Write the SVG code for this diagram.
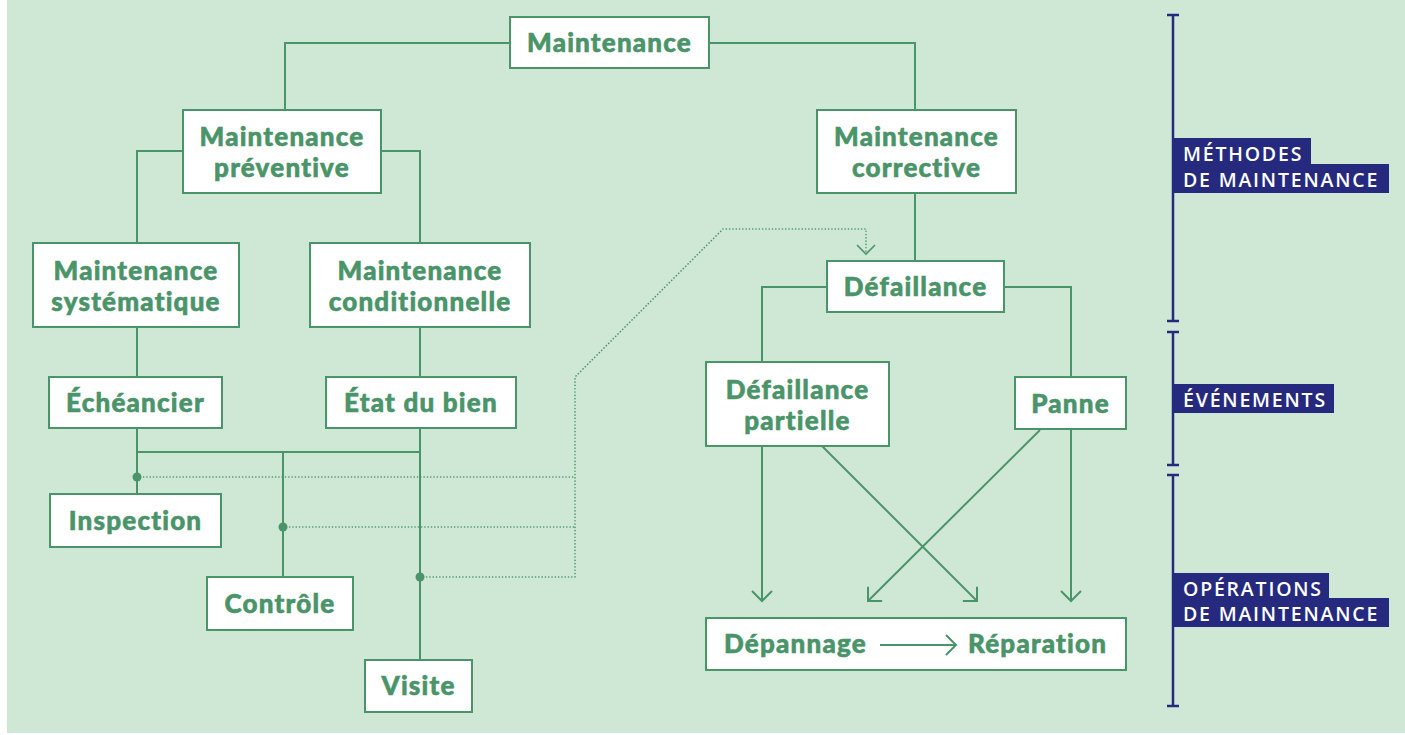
<svg xmlns="http://www.w3.org/2000/svg" width="1405" height="735" viewBox="0 0 1405 735">
<defs>
<style>
.bg{fill:#cfe8d6}
.box{fill:#ffffff;stroke:#4a9469;stroke-width:2}
.t{font-family:Lato,"Open Sans",sans-serif;font-weight:900;font-size:26px;letter-spacing:1.2px;fill:#4a9469;stroke:#4a9469;stroke-width:0.6px;text-anchor:middle}
.ts{font-family:Lato,"Open Sans",sans-serif;font-weight:900;font-size:26px;letter-spacing:1.2px;fill:#4a9469;stroke:#4a9469;stroke-width:0.6px}
.ln{fill:none;stroke:#4a9469;stroke-width:2}
.dot{fill:none;stroke:#4a9469;stroke-width:1.6;stroke-dasharray:0.1 3.2;stroke-linecap:round}
.nv{fill:none;stroke:#252a7f;stroke-width:2.5}
.lb{fill:#252a7f}
.lt{font-family:"Open Sans","Liberation Sans",sans-serif;font-weight:600;font-size:19.5px;letter-spacing:1.8px;fill:#ffffff}
</style>
<marker id="ah" viewBox="-12 -12 24 24" markerWidth="24" markerHeight="24" markerUnits="userSpaceOnUse" orient="auto" refX="0" refY="0">
<path d="M -10 -10 L 0 0 L -10 10" fill="none" stroke="#4a9469" stroke-width="2"/>
</marker>
<marker id="ahd" viewBox="-12 -12 24 24" markerWidth="24" markerHeight="24" markerUnits="userSpaceOnUse" orient="auto" refX="0" refY="0">
<path d="M -9 -9 L 0 0 L -9 9" fill="none" stroke="#4a9469" stroke-width="1.6"/>
</marker>
</defs>
<rect class="bg" x="7" y="0" width="1398" height="733"/>

<g id="connectors">
<path class="ln" d="M 510 43 H 285 V 110"/>
<path class="ln" d="M 709 43 H 915 V 110"/>
<path class="ln" d="M 183 151 H 137 V 243"/>
<path class="ln" d="M 381 151 H 420 V 243"/>
<path class="ln" d="M 137 327 V 377"/>
<path class="ln" d="M 420 327 V 377"/>
<path class="ln" d="M 137 428 V 494"/>
<path class="ln" d="M 420 428 V 660"/>
<path class="ln" d="M 137 452 H 420"/>
<path class="ln" d="M 283 452 V 577"/>
<path class="ln" d="M 915 193 V 261"/>
<path class="ln" d="M 827 287 H 762 V 362"/>
<path class="ln" d="M 1004 287 H 1071 V 377"/>
<path class="ln" d="M 762 446 V 601" marker-end="url(#ah)"/>
<path class="ln" d="M 822 446 L 977 601" marker-end="url(#ah)"/>
<path class="ln" d="M 1040 430 L 868 601" marker-end="url(#ah)"/>
<path class="ln" d="M 1071 430 V 601" marker-end="url(#ah)"/>
<path class="dot" d="M 137 477 H 575"/>
<path class="dot" d="M 283 527 H 575"/>
<path class="dot" d="M 420 577 H 575 V 377 L 723 229 H 866 V 254" marker-end="url(#ahd)"/>
<circle cx="137" cy="477" r="4.5" fill="#4a9469"/>
<circle cx="283" cy="527" r="4.5" fill="#4a9469"/>
<circle cx="420" cy="577" r="4.5" fill="#4a9469"/>
</g>

<g id="n-maintenance"><rect class="box" x="510" y="17" width="199" height="51"/><text class="t" x="609.5" y="52">Maintenance</text></g>
<g id="n-preventive"><rect class="box" x="183" y="110" width="198" height="83"/><text class="t" x="282" y="146">Maintenance</text><text class="t" x="282" y="177">préventive</text></g>
<g id="n-corrective"><rect class="box" x="817" y="110" width="199" height="83"/><text class="t" x="916.5" y="146">Maintenance</text><text class="t" x="916.5" y="177">corrective</text></g>
<g id="n-systematique"><rect class="box" x="33" y="243" width="206" height="84"/><text class="t" x="136" y="279.5">Maintenance</text><text class="t" x="136" y="310.5">systématique</text></g>
<g id="n-conditionnelle"><rect class="box" x="310" y="243" width="220" height="84"/><text class="t" x="420" y="279.5">Maintenance</text><text class="t" x="420" y="310.5">conditionnelle</text></g>
<g id="n-echeancier"><rect class="box" x="49" y="377" width="173" height="51"/><text class="t" x="135.5" y="412">Échéancier</text></g>
<g id="n-etat"><rect class="box" x="326" y="377" width="190" height="51"/><text class="t" x="421" y="412">État du bien</text></g>
<g id="n-inspection"><rect class="box" x="50" y="494" width="171" height="53"/><text class="t" x="135.5" y="530">Inspection</text></g>
<g id="n-controle"><rect class="box" x="207" y="577" width="146" height="53"/><text class="t" x="280" y="613">Contrôle</text></g>
<g id="n-visite"><rect class="box" x="365" y="660" width="107" height="52"/><text class="t" x="418.5" y="695">Visite</text></g>
<g id="n-defaillance"><rect class="box" x="827" y="261" width="177" height="51"/><text class="t" x="915.5" y="296">Défaillance</text></g>
<g id="n-partielle"><rect class="box" x="706" y="362" width="183" height="84"/><text class="t" x="797.5" y="398.5">Défaillance</text><text class="t" x="797.5" y="429.5">partielle</text></g>
<g id="n-panne"><rect class="box" x="1015" y="377" width="111" height="52"/><text class="t" x="1070.5" y="412.5">Panne</text></g>
<g id="n-operations"><rect class="box" x="706" y="618" width="420" height="52"/><text class="ts" x="724" y="653">Dépannage</text><path class="ln" d="M 880 645 H 956" stroke-width="1.6" marker-end="url(#ah)"/><text class="ts" x="968" y="653">Réparation</text></g>

<g id="legend">
<path class="nv" d="M 1173 15 V 321 M 1167 15 H 1179 M 1167 321 H 1179"/>
<path class="nv" d="M 1173 332 V 465 M 1167 332 H 1179 M 1167 465 H 1179"/>
<path class="nv" d="M 1173 475 V 706 M 1167 475 H 1179 M 1167 706 H 1179"/>
<rect class="lb" x="1173" y="138" width="138" height="27"/>
<rect class="lb" x="1173" y="164" width="216" height="29"/>
<text class="lt" x="1183" y="161">MÉTHODES</text>
<text class="lt" x="1183" y="187">DE MAINTENANCE</text>
<rect class="lb" x="1173" y="384" width="161" height="29"/>
<text class="lt" x="1183" y="407">ÉVÉNEMENTS</text>
<rect class="lb" x="1173" y="573" width="156" height="26"/>
<rect class="lb" x="1173" y="598" width="216" height="29"/>
<text class="lt" x="1183" y="596">OPÉRATIONS</text>
<text class="lt" x="1183" y="621">DE MAINTENANCE</text>
</g>
</svg>
